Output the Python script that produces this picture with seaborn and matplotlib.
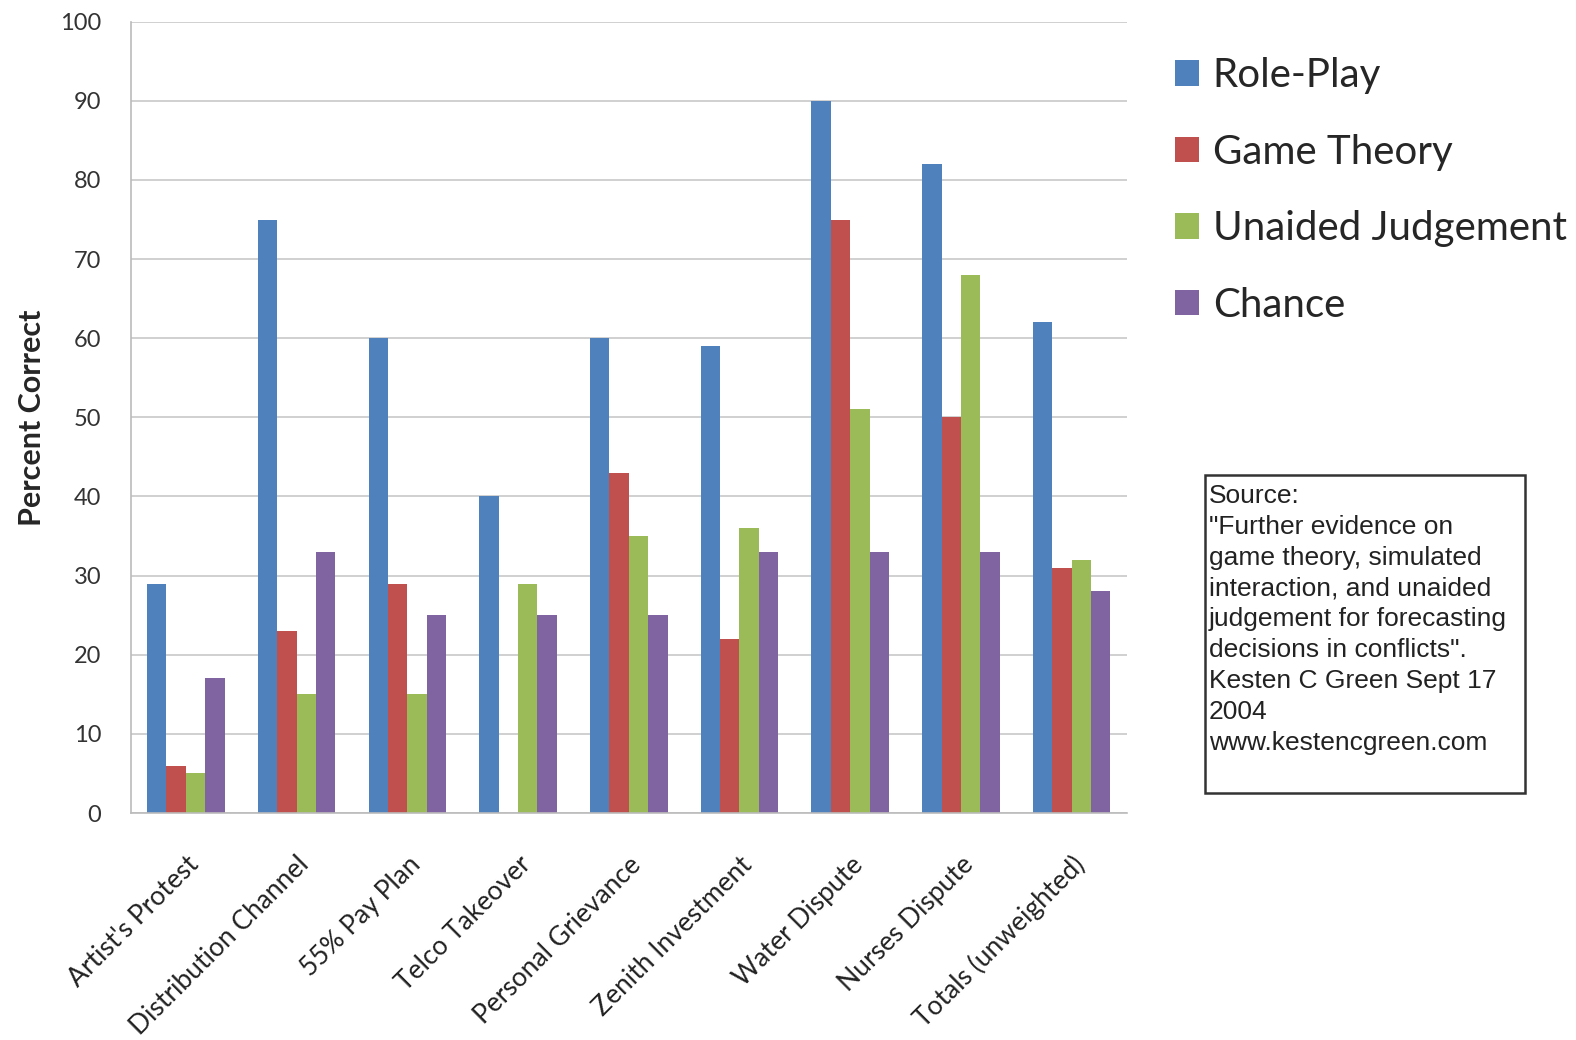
import numpy as np
import pandas as pd
import matplotlib
matplotlib.use("Agg")
import matplotlib.pyplot as plt
import seaborn as sns
from matplotlib.patches import Patch, Rectangle

categories = ["Artist's Protest", "Distribution Channel", "55% Pay Plan", "Telco Takeover",
              "Personal Grievance", "Zenith Investment", "Water Dispute", "Nurses Dispute",
              "Totals (unweighted)"]
series = ["Role-Play", "Game Theory", "Unaided Judgement", "Chance"]
role_play = [29, 75, 60, 40, 60, 59, 90, 82, 62]
game_theory = [6, 23, 29, np.nan, 43, 22, 75, 50, 31]
unaided = [5, 15, 15, 29, 35, 36, 51, 68, 32]
chance = [17, 33, 25, 25, 25, 33, 33, 33, 28]
colors = ["#4F81BD", "#C0504D", "#9BBB59", "#8064A2"]
yticks = [0, 10, 20, 30, 40, 50, 60, 70, 80, 90, 100]
source_text = ("Source:\n\"Further evidence on\ngame theory, simulated\ninteraction, and unaided\n"
               "judgement for forecasting\ndecisions in conflicts\".\nKesten C Green Sept 17\n2004\n"
               "www.kestencgreen.com")

rows = []
for s, vals in zip(series, [role_play, game_theory, unaided, chance]):
    for c, v in zip(categories, vals):
        rows.append({"Case": c, "Method": s, "Value": v})
df = pd.DataFrame(rows)

sns.set_theme(style="white")
plt.rcParams['font.family'] = ['Lato', 'DejaVu Sans']

W, H = 1576, 1040
fig = plt.figure(figsize=(15.76, 10.4), dpi=100)
ax = fig.add_axes([130.5 / W, (H - 813) / H, (1127 - 130.5) / W, (813 - 21.7) / H])

sns.barplot(data=df, x="Case", y="Value", hue="Method", order=categories,
            hue_order=series, palette=colors, width=0.7, saturation=1,
            edgecolor="none", linewidth=0, ax=ax, legend=False)

ax.set_ylim(0, 100)
ax.set_xlim(-0.5, len(categories) - 0.5)
ax.set_yticks(yticks)
ax.set_yticklabels([str(t) for t in yticks], fontsize=17, color="#333333")
ax.yaxis.grid(True, color="#C8C8C8", linewidth=1.2)
ax.set_axisbelow(True)
ax.tick_params(axis="y", length=0, pad=21)
ax.tick_params(axis="x", length=0, pad=28)
ax.set_xticks(range(len(categories)))
ax.set_xticklabels(categories, rotation=45, ha="right", rotation_mode="anchor",
                   fontsize=19, color="#222222")
ax.set_xlabel("")
ax.set_ylabel("Percent Correct", fontsize=22, fontweight="bold", labelpad=10)
for sp in ["top", "right"]:
    ax.spines[sp].set_visible(False)
for sp in ["left", "bottom"]:
    ax.spines[sp].set_color("#BBBBBB")
    ax.spines[sp].set_linewidth(1.2)

handles = [Patch(facecolor=c, edgecolor="none") for c in colors]
fig.legend(handles, series, loc="upper left", bbox_to_anchor=(0.7274, 0.972),
           frameon=False, fontsize=29, handlelength=0.6, handleheight=0.6,
           handletextpad=0.35, labelspacing=0.98, borderpad=0.2)

fig.text(1209 / W, 1 - 484 / H, source_text, fontsize=19,
         family=["Liberation Sans", "DejaVu Sans"],
         va="top", ha="left", linespacing=1.36, color="#222222")
fig.patches.append(Rectangle((1205 / W, 1 - 793 / H), (1525 - 1205) / W, (793 - 475) / H,
                             transform=fig.transFigure, facecolor="none", edgecolor="#333333",
                             linewidth=1.8))

fig.savefig("out.png", dpi=100)
